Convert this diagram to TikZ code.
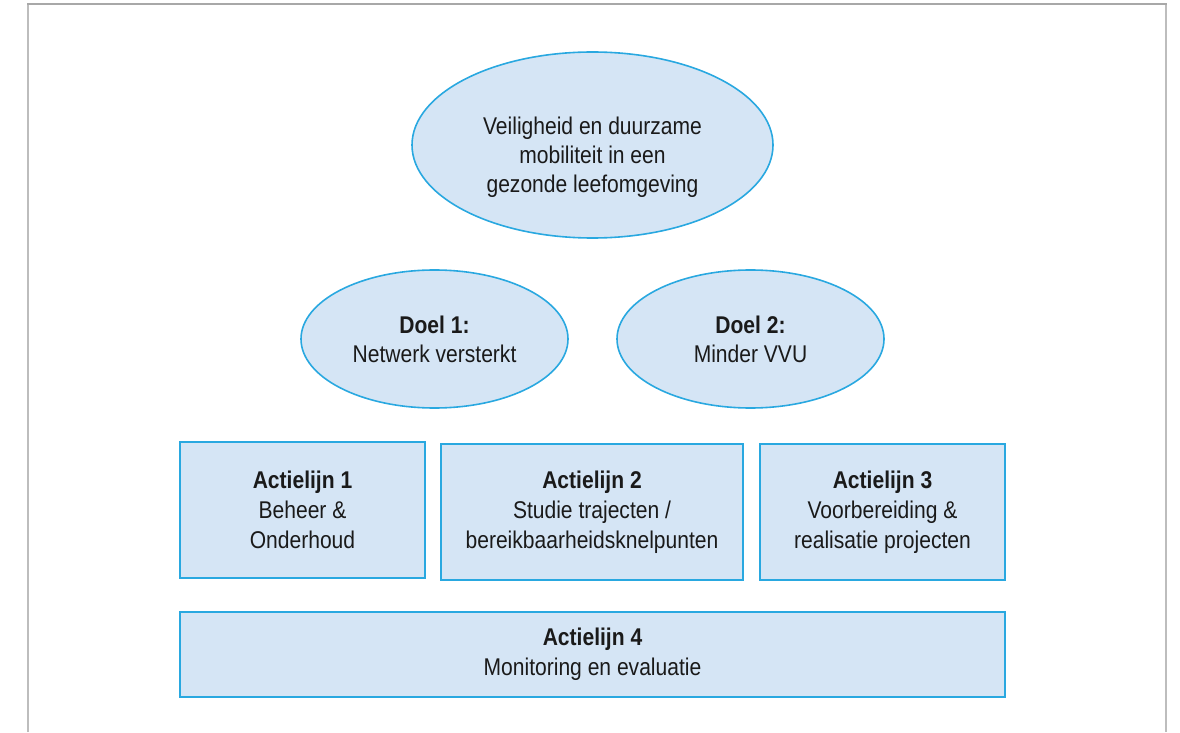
\documentclass[tikz,border=0pt]{standalone}
\usepackage{fontspec}
\setmainfont{Liberation Sans}[FakeStretch=0.87]
\usepackage{xcolor}
\definecolor{planFill}{HTML}{D5E5F5}
\definecolor{planLine}{HTML}{29A8E0}
\definecolor{frameGray}{HTML}{BDBDBD}
\definecolor{frameTop}{HTML}{A8A8A8}
\definecolor{darkText}{HTML}{1A1A1A}
\usepackage{tikz}
\usetikzlibrary{
    shapes.geometric,
    positioning
}
\tikzset{
    % Base style for all nodes
    plan base/.style={
        font=\fontsize{24.2}{28.8}\selectfont,
        align=center,
        text=darkText,
        inner sep=0pt,
        fill=planFill,
        draw=planLine,
        line width=1.6pt,
    },
    % Vision and goals - light blue ellipse
    goal/.style={
        plan base,
        ellipse,
    },
    % Action lines - flat rectangle
    action/.style={
        plan base,
        rectangle,
        font=\fontsize{24.2}{30}\selectfont,
    },
    % Plain text set on top of a shape
    plan text/.style={
        font=\fontsize{24.2}{28.8}\selectfont,
        align=center,
        text=darkText,
        inner sep=0pt,
    },
    % Outer page frame
    frame line/.style={
        draw=frameGray,
        line width=2pt,
    },
}

\begin{document}
\begin{tikzpicture}[x=1pt, y=1pt]
    \useasboundingbox (0,0) rectangle (1180,732);

    % frame round the figure, open at the bottom
    \draw [frame line] (28,0) -- (28,727.5);
    \draw [frame line] (1165.5,0) -- (1165.5,727.5);
    \draw [frame line, draw=frameTop] (27,727.5) -- (1166.5,727.5);

    \node (vision) [goal, minimum width=361, minimum height=186] at (592.5,587) {};
    \node (vision text) [plan text, yshift=-12] at (vision)
        {Veiligheid en duurzame\\mobiliteit in een\\gezonde leefomgeving};
    \node (doel1) [goal, minimum width=267, minimum height=138] at (434.5,393)
        {\textbf{Doel 1:}\\Netwerk versterkt};
    \node (doel2) [goal, minimum width=267, minimum height=138] at (750.5,393)
        {\textbf{Doel 2:}\\Minder VVU};

    \node (act1) [action, minimum width=245, minimum height=136] at (302.5,222)
        {\textbf{Actielijn 1}\\Beheer \&\\Onderhoud};
    \node (act2) [action, minimum width=302, minimum height=136] at (592,220)
        {\textbf{Actielijn 2}\\Studie trajecten /\\bereikbaarheidsknelpunten};
    \node (act3) [action, minimum width=245, minimum height=136] at (882.5,220)
        {\textbf{Actielijn 3}\\Voorbereiding \&\\realisatie projecten};
    \node (act4) [action, minimum width=825, minimum height=85] at (592.5,77.5)
        {\textbf{Actielijn 4}\\Monitoring en evaluatie};
\end{tikzpicture}
\end{document}
